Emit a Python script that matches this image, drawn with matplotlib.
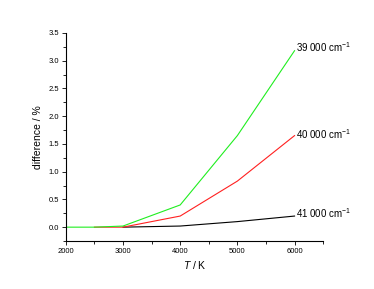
import numpy as np
import matplotlib.pyplot as plt
from matplotlib.ticker import MultipleLocator

plt.rcParams["font.family"] = ["Liberation Sans", "DejaVu Sans"]
plt.rcParams["mathtext.fontset"] = "custom"
plt.rcParams["mathtext.rm"] = "Liberation Sans"
plt.rcParams["mathtext.it"] = "Liberation Sans:italic"

# temperatures (K) and differences (%) for each wavenumber
T_green = [2000, 2500, 3000, 4000, 5000, 6000]
d_39000 = [0.0, 0.0, 0.02, 0.4, 1.65, 3.18]

T_red = [2500, 3000, 4000, 5000, 6000]
d_40000 = [0.0, 0.0, 0.2, 0.83, 1.65]

T_black = [3000, 4000, 5000, 6000]
d_41000 = [0.0, 0.02, 0.1, 0.2]

labels = ["39 000 cm$^{\\mathrm{-1}}$", "40 000 cm$^{\\mathrm{-1}}$", "41 000 cm$^{\\mathrm{-1}}$"]

fig = plt.figure(figsize=(3.74, 2.89), dpi=100)
ax = fig.add_axes([0.176, 0.166, 0.688, 0.72])

ax.plot(T_black, d_41000, color="black", lw=0.8)
ax.plot(T_red, d_40000, color="#ff2020", lw=0.8)
ax.plot(T_green, d_39000, color="#20ee20", lw=0.8)

# labels at line ends
ax.text(6030, d_39000[-1] + 0.06, labels[0], fontsize=7, va="center", ha="left")
ax.text(6030, d_40000[-1] + 0.02, labels[1], fontsize=7, va="center", ha="left")
ax.text(6030, d_41000[-1] + 0.05, labels[2], fontsize=7, va="center", ha="left")

ax.set_xlim(2000, 6500)
ax.set_ylim(-0.25, 3.5)
ax.xaxis.set_major_locator(MultipleLocator(1000))
ax.xaxis.set_minor_locator(MultipleLocator(500))
ax.yaxis.set_major_locator(MultipleLocator(0.5))
ax.yaxis.set_minor_locator(MultipleLocator(0.25))
ax.yaxis.set_major_formatter(plt.FormatStrFormatter("%.1f"))

ax.spines["top"].set_visible(False)
ax.spines["right"].set_visible(False)
ax.tick_params(which="both", labelsize=5.5, width=0.6, length=3, pad=2)
ax.tick_params(which="minor", length=2)

ax.set_xlabel("$T$ / K", fontsize=7.5, labelpad=3)
ax.set_ylabel("difference / %", fontsize=7.5, labelpad=4)

fig.savefig("out.png", dpi=100)
